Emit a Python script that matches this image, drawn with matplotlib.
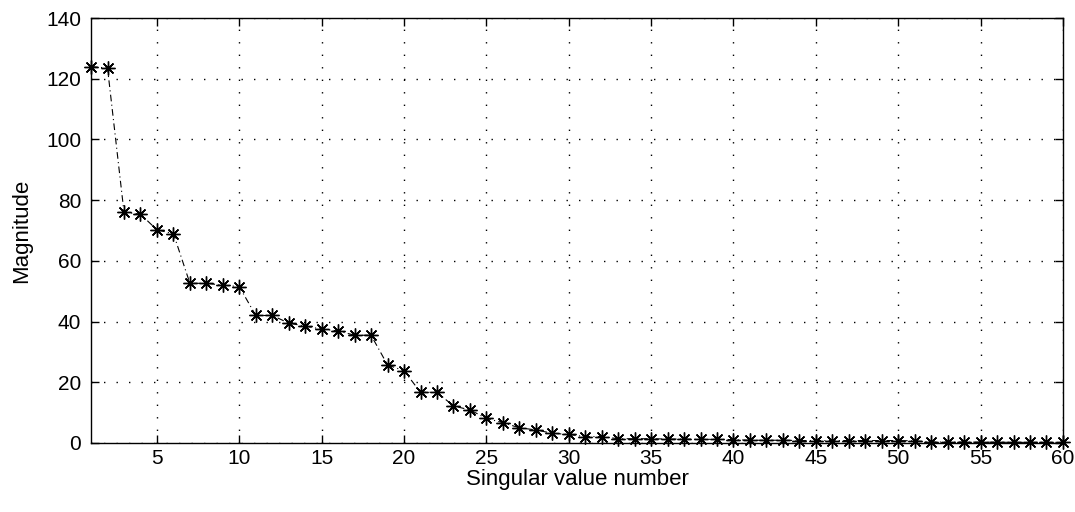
import matplotlib
matplotlib.use('Agg')
import matplotlib.pyplot as plt

plt.rcParams['font.family'] = ['Liberation Sans', 'DejaVu Sans']

index = list(range(1, 61))
magnitude = [124.0, 123.5, 76.0, 75.4, 70.2, 69.0, 52.6, 52.6, 52.0, 51.5,
             42.0, 42.0, 39.5, 38.5, 37.5, 36.9, 35.5, 35.5, 25.7, 23.8,
             16.7, 16.7, 12.2, 10.9, 8.1, 6.7, 5.0, 4.3, 3.2, 2.8,
             2.1, 2.1, 1.4, 1.4, 1.4, 1.3, 1.3, 1.2, 1.2, 1.1,
             0.9, 0.9, 0.9, 0.8, 0.8, 0.8, 0.8, 0.8, 0.8, 0.8,
             0.7, 0.3, 0.3, 0.3, 0.25, 0.25, 0.2, 0.2, 0.2, 0.2]

fig = plt.figure(figsize=(10.75, 5.12), dpi=100)
ax = fig.add_axes([0.0847, 0.1348, 0.9041, 0.830])

# dash-dot connecting line, then matlab-style asterisk markers
ax.plot(index, magnitude, color='black', linestyle=(0, (6, 3, 1, 3)), linewidth=0.8,
        clip_on=False, zorder=3)
ax.plot(index, magnitude, linestyle='none', marker=(8, 2, 0), markersize=10,
        markeredgewidth=1.0, color='black', clip_on=False, zorder=4)
ax.plot(index, magnitude, linestyle='none', marker='o', markersize=3,
        color='black', clip_on=False, zorder=4)

ax.set_xlim(1, 60)
ax.set_ylim(0, 140)
ax.set_xticks(range(5, 61, 5))
ax.set_yticks(range(0, 141, 20))
ax.grid(True, linestyle=(0, (1, 8)), color='black', linewidth=1.0)
ax.tick_params(direction='in', top=True, right=True, labelsize=15, length=6, width=1.0)
ax.tick_params(axis='y', pad=7)
ax.tick_params(axis='x', pad=4)
for s in ax.spines.values():
    s.set_linewidth(1.0)

ax.set_xlabel('Singular value number', fontsize=16, labelpad=1)
ax.set_ylabel('Magnitude', fontsize=16, labelpad=10)

fig.savefig('out.png', dpi=100)
